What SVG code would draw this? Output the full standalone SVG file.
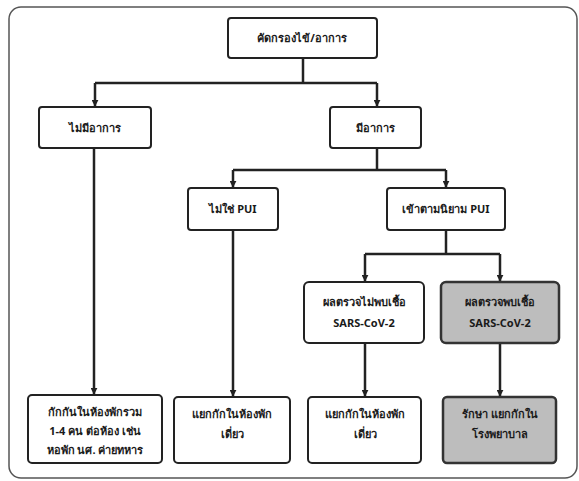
<svg xmlns="http://www.w3.org/2000/svg" width="579" height="481" viewBox="0 0 579 481">
<defs>
<marker id="ah" viewBox="0 0 10 10" refX="9" refY="5" markerWidth="7" markerHeight="7" markerUnits="userSpaceOnUse" orient="auto"><path d="M0,0 L10,5 L0,10 z" fill="#222"/></marker>
<style>
.box{fill:#fff;stroke:#222;stroke-width:2}
.grey{fill:#bdbdbd;stroke:#333;stroke-width:2.5}
.t{font-family:"Noto Sans","DejaVu Sans","Liberation Sans",sans-serif;font-size:11px;font-weight:bold;fill:#1a1a1a;text-anchor:middle}
.c{fill:none;stroke:#222;stroke-width:2.5}
</style>
</defs>
<rect x="0" y="0" width="579" height="481" fill="#fff"/>
<rect x="9" y="7" width="568" height="471" rx="12" fill="none" stroke="#555" stroke-width="1.5"/>
<g id="connectors">
<path class="c" d="M303,58 V83"/>
<path class="c" d="M95,83 H377"/>
<path class="c" d="M95,83 V106" marker-end="url(#ah)"/>
<path class="c" d="M377,83 V106" marker-end="url(#ah)"/>
<path class="c" d="M377,148 V170"/>
<path class="c" d="M233,170 H446"/>
<path class="c" d="M233,170 V187" marker-end="url(#ah)"/>
<path class="c" d="M446,170 V187" marker-end="url(#ah)"/>
<path class="c" d="M446,230 V254"/>
<path class="c" d="M365,254 H500"/>
<path class="c" d="M365,254 V281" marker-end="url(#ah)"/>
<path class="c" d="M500,254 V281" marker-end="url(#ah)"/>
<path class="c" d="M94,148 V394" marker-end="url(#ah)"/>
<path class="c" d="M233,230 V396" marker-end="url(#ah)"/>
<path class="c" d="M365,343 V396" marker-end="url(#ah)"/>
<path class="c" d="M500,343 V396" marker-end="url(#ah)"/>
</g>
<g id="screen"><rect class="box" x="228" y="18" width="149" height="40" rx="3"/><text class="t" x="302" y="42">คัดกรองไข้/อาการ</text></g>
<g id="nosym"><rect class="box" x="39" y="107" width="112" height="41" rx="3"/><text class="t" x="95" y="132">ไม่มีอาการ</text></g>
<g id="sym"><rect class="box" x="330" y="107" width="91" height="41" rx="3"/><text class="t" x="375" y="132">มีอาการ</text></g>
<g id="notpui"><rect class="box" x="188" y="188" width="90" height="42" rx="3"/><text class="t" x="233" y="213">ไม่ใช่ PUI</text></g>
<g id="pui"><rect class="box" x="387" y="188" width="118" height="42" rx="3"/><text class="t" x="446" y="213">เข้าตามนิยาม PUI</text></g>
<g id="neg"><rect class="box" x="304" y="282" width="120" height="61" rx="5"/><text class="t" x="364" y="306">ผลตรวจไม่พบเชื้อ</text><text class="t" x="364" y="327">SARS-CoV-2</text></g>
<g id="pos"><rect class="grey" x="441" y="282" width="118" height="61" rx="5"/><text class="t" x="500" y="306">ผลตรวจพบเชื้อ</text><text class="t" x="500" y="327">SARS-CoV-2</text></g>
<g id="quarantine"><rect class="box" x="28" y="395" width="134" height="68" rx="4"/><text class="t" x="95" y="416">กักกันในห้องพักรวม</text><text class="t" x="95" y="435">1-4 คน ต่อห้อง เช่น</text><text class="t" x="95" y="454">หอพัก นศ. ค่ายทหาร</text></g>
<g id="single1"><rect class="box" x="174" y="397" width="116" height="66" rx="4"/><text class="t" x="232" y="418">แยกกักในห้องพัก</text><text class="t" x="232" y="438">เดี่ยว</text></g>
<g id="single2"><rect class="box" x="308" y="397" width="113" height="66" rx="4"/><text class="t" x="365" y="418">แยกกักในห้องพัก</text><text class="t" x="365" y="438">เดี่ยว</text></g>
<g id="hospital"><rect class="grey" x="443" y="397" width="113" height="66" rx="4"/><text class="t" x="500" y="418">รักษา แยกกักใน</text><text class="t" x="500" y="438">โรงพยาบาล</text></g>
</svg>
